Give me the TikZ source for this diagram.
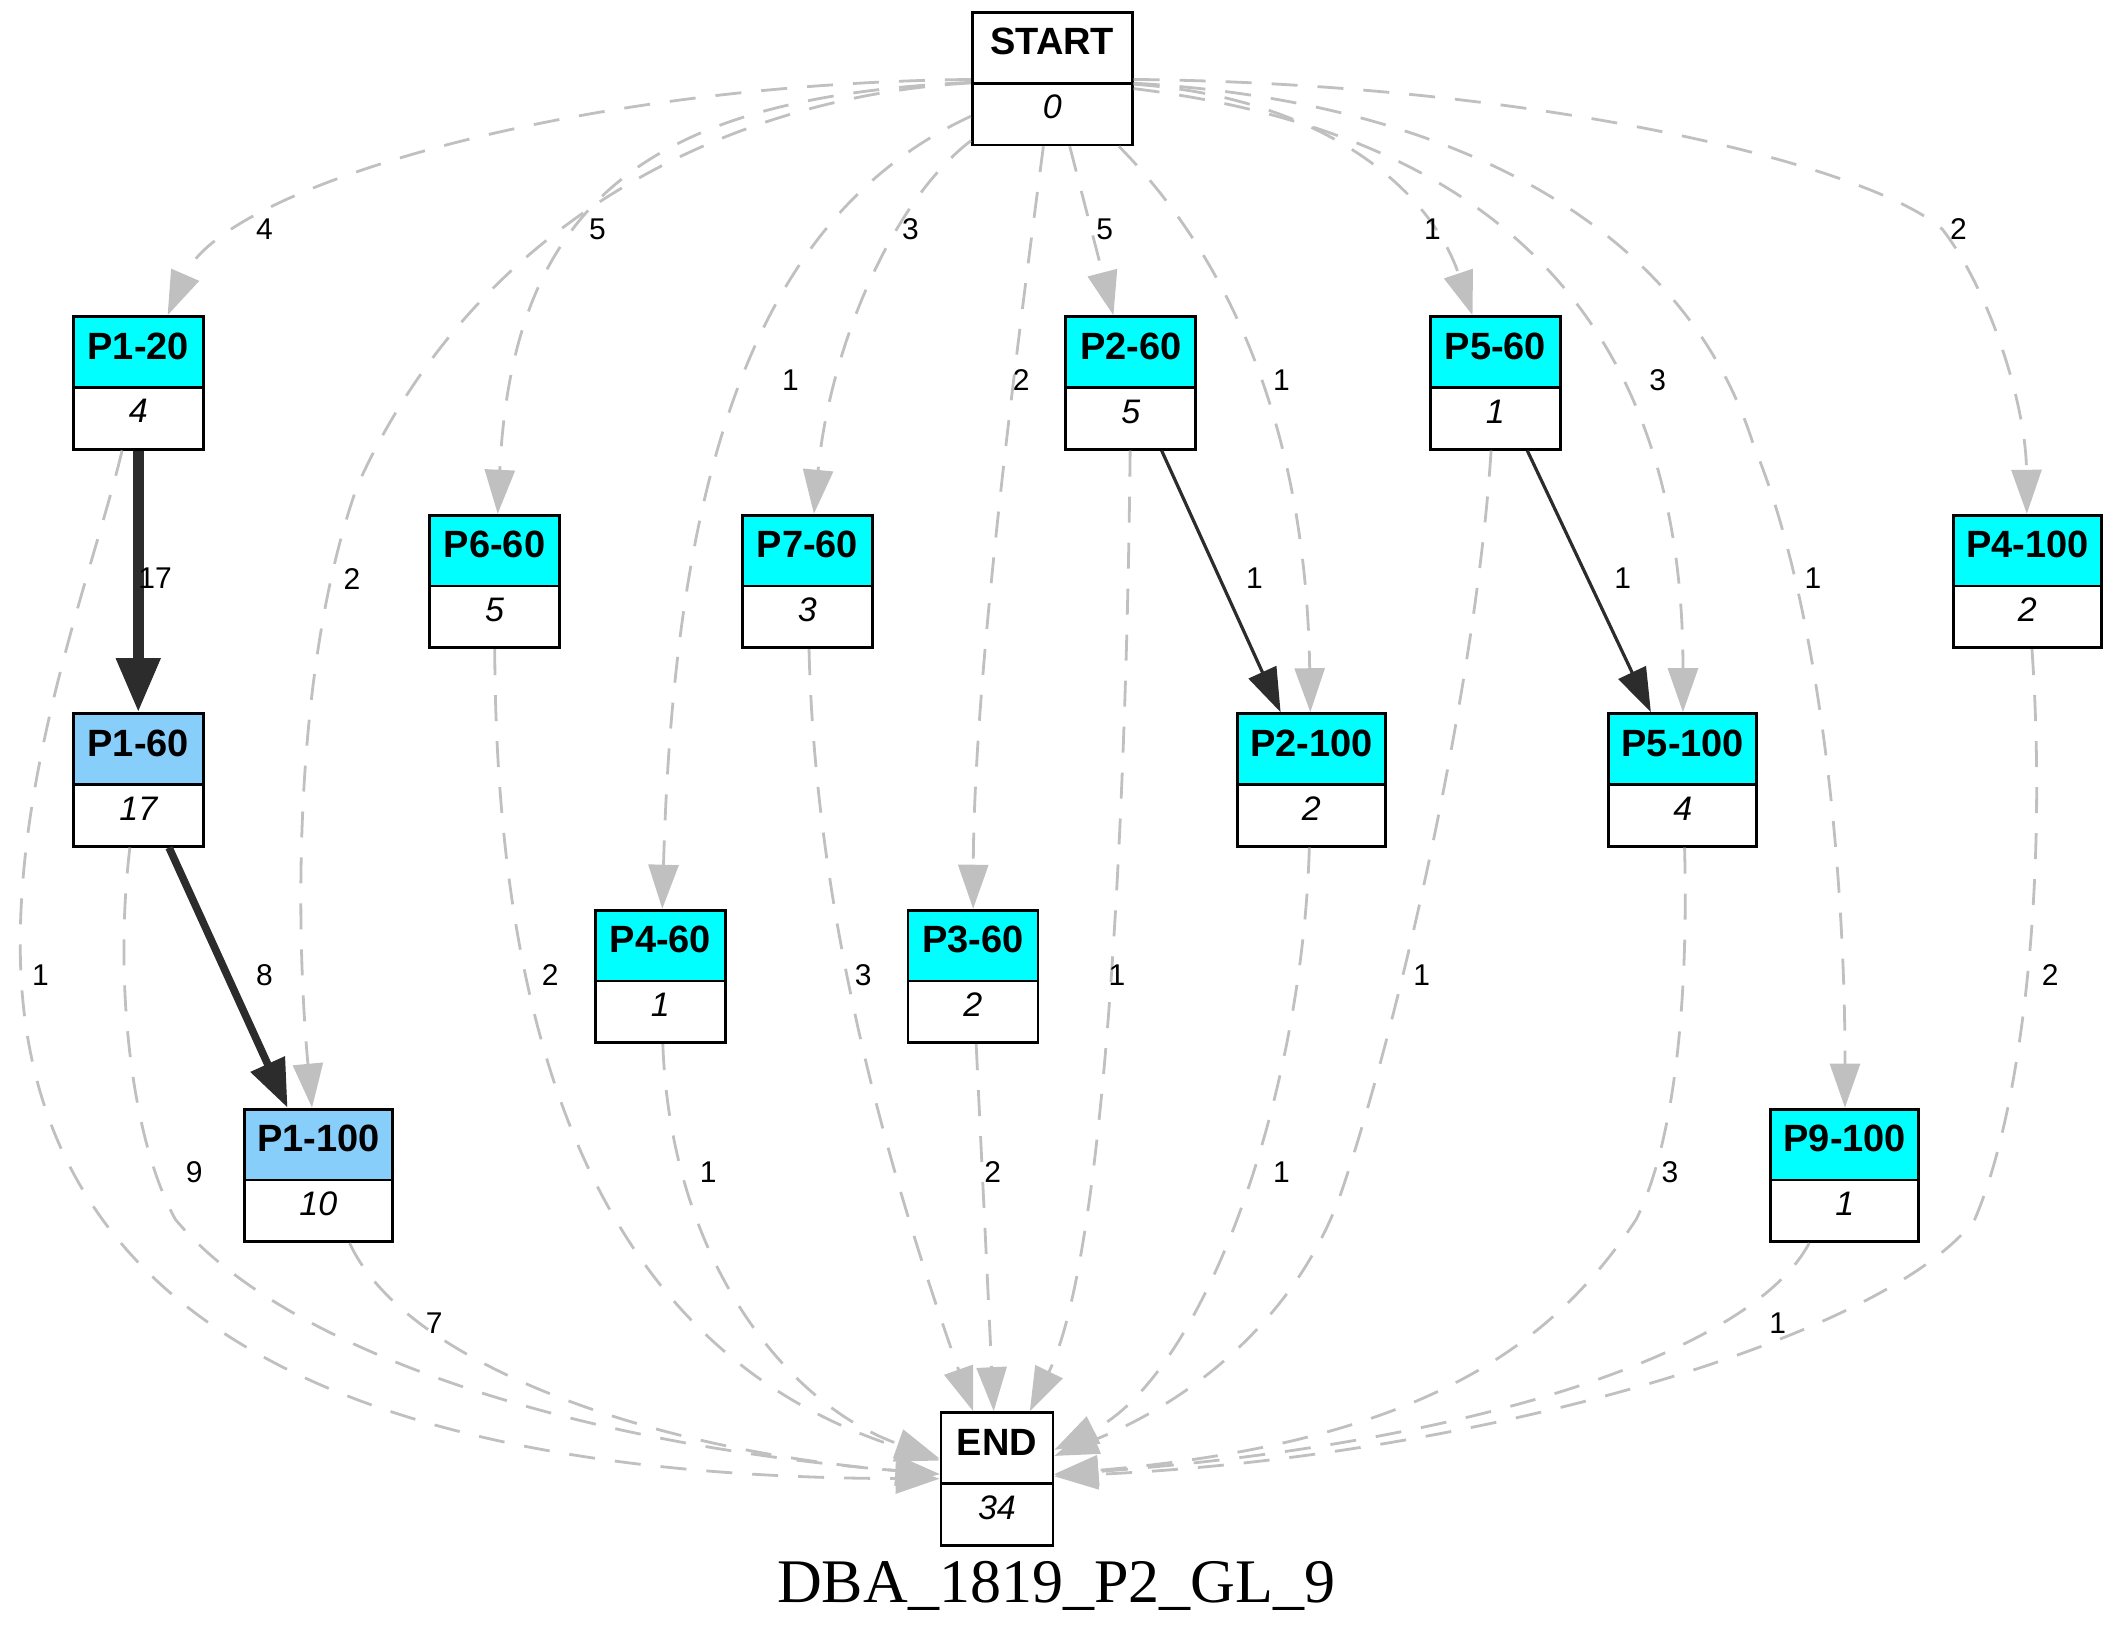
\documentclass[tikz,border=0pt]{standalone}
\usepackage{fontspec}
\setmainfont{Liberation Serif}
\setsansfont{Liberation Sans}
\usetikzlibrary{shapes.multipart}
\usetikzlibrary{arrows.meta}

\definecolor{edgegray}{HTML}{C0C0C0}
\definecolor{edgedark}{HTML}{2C2C2C}
\definecolor{aquafill}{HTML}{00FFFF}
\definecolor{skyfill}{HTML}{87CEFA}

\newcommand{\boxtext}[2]{{\fontsize{9.5}{11}\selectfont\bfseries\rule[-6.7pt]{0pt}{17pt}#1}\nodepart{two}{\fontsize{8.5}{10}\selectfont\itshape\rule[-6.2pt]{0pt}{14.75pt}#2}}

\tikzset{
    pbox/.style={rectangle split, rectangle split parts=2, draw=black, line width=0.7pt,
        inner xsep=1pt, inner ysep=0pt, minimum width=32.5pt, font=\sffamily,
        rectangle split part fill={#1,white}},
    pbox/.default=aquafill,
    wide/.style={minimum width=37pt},
    flow/.style={draw=edgegray, line width=0.7pt, dash pattern=on 6.5pt off 5pt,
        -{Triangle[length=11pt,width=7.5pt]}},
    link/.style={draw=edgedark, line width=0.8pt, -{Triangle[length=11pt,width=7.5pt]}},
    lbl/.style={font=\sffamily\fontsize{7.5}{9}\selectfont, inner sep=0pt},
}

\begin{document}
\begin{tikzpicture}[x=0.3372pt, y=-0.3372pt]
    \useasboundingbox (0,0) rectangle (1568,1223);

    % 节点
    \node[pbox=white, minimum width=40pt] (START) at (780.1,58.3) {\boxtext{START}{0}};
    \node[pbox] (P120) at (102.5,283.8) {\boxtext{P1-20}{4}};
    \node[pbox] (P260) at (838.4,283.9) {\boxtext{P2-60}{5}};
    \node[pbox] (P560) at (1108.6,283.9) {\boxtext{P5-60}{1}};
    \node[pbox] (P660) at (366.6,431.1) {\boxtext{P6-60}{5}};
    \node[pbox] (P760) at (598.6,431.1) {\boxtext{P7-60}{3}};
    \node[pbox, wide] (P4100) at (1503,431.1) {\boxtext{P4-100}{2}};
    \node[pbox=skyfill] (P160) at (102.5,578.2) {\boxtext{P1-60}{17}};
    \node[pbox, wide] (P2100) at (972.2,578.2) {\boxtext{P2-100}{2}};
    \node[pbox, wide] (P5100) at (1247.6,578.2) {\boxtext{P5-100}{4}};
    \node[pbox] (P460) at (489.6,723.9) {\boxtext{P4-60}{1}};
    \node[pbox] (P360) at (721.3,723.9) {\boxtext{P3-60}{2}};
    \node[pbox=skyfill, wide] (P1100) at (236,871.4) {\boxtext{P1-100}{10}};
    \node[pbox, wide] (P9100) at (1367.7,871.4) {\boxtext{P9-100}{1}};
    \node[pbox=white, minimum width=28pt] (END) at (739.1,1096.4) {\boxtext{END}{34}};

    % 从 START 出发
    \draw[flow] (START) .. controls (420,62) and (165,140) .. (P120);
    \draw[flow] (START) .. controls (560,70) and (360,150) .. (265,360) .. controls (215,500) and (220,700) .. (P1100);
    \draw[flow] (START) .. controls (480,72) and (380,150) .. (P660);
    \draw[flow] (START) .. controls (560,160) and (500,350) .. (P460);
    \draw[flow] (START) .. controls (660,150) and (615,260) .. (P760);
    \draw[flow] (START) .. controls (755,250) and (722,500) .. (P360);
    \draw[flow] (START) -- (P260);
    \draw[flow] (START) .. controls (900,180) and (968,300) .. (P2100);
    \draw[flow] (START) .. controls (980,72) and (1060,140) .. (P560);
    \draw[flow] (START) .. controls (1120,100) and (1248,250) .. (P5100);
    \draw[flow] (START) .. controls (1080,75) and (1250,170) .. (1300,330) .. controls (1350,450) and (1368,650) .. (P9100);
    \draw[flow] (START) .. controls (1150,62) and (1390,125) .. (1440,170) .. controls (1475,215) and (1502,300) .. (P4100);

    % 实线
    \draw[link, line width=2.7pt, -{Triangle[length=13.5pt,width=10.5pt]}] (P120) -- (P160);
    \draw[link, line width=1.9pt, -{Triangle[length=12pt,width=9pt]}] (P160) -- (P1100);
    \draw[link] (P260) -- (P2100);
    \draw[link] (P560) -- (P5100);

    % 到 END
    \draw[flow] (P120) .. controls (70,420) and (15,560) .. (15,700) .. controls (15,1000) and (300,1095) .. (END);
    \draw[flow] (P160) .. controls (85,720) and (95,840) .. (130,904) .. controls (210,1000) and (420,1070) .. (END);
    \draw[flow] (P1100) .. controls (300,1010) and (480,1075) .. (END);
    \draw[flow] (P660) .. controls (368,820) and (470,1010) .. (END);
    \draw[flow] (P460) .. controls (497,930) and (580,1040) .. (END);
    \draw[flow] (P760) .. controls (605,700) and (670,900) .. (END);
    \draw[flow] (P360) -- (END);
    \draw[flow] (P260) .. controls (835,600) and (820,930) .. (END);
    \draw[flow] (P560) .. controls (1095,500) and (1040,750) .. (994,885) .. controls (960,980) and (880,1040) .. (END);
    \draw[flow] (P2100) .. controls (965,820) and (890,1020) .. (END);
    \draw[flow] (P5100) .. controls (1252,750) and (1240,850) .. (1213,904) .. controls (1150,1000) and (1050,1070) .. (END);
    \draw[flow] (P9100) .. controls (1300,1000) and (1100,1070) .. (END);
    \draw[flow] (P4100) .. controls (1518,650) and (1500,820) .. (1464,904) .. controls (1400,990) and (1100,1080) .. (END);

    % 边上的数字
    \node[lbl] (l01) at (196,170) {4};
    \node[lbl] (l02) at (443,170) {5};
    \node[lbl] (l03) at (675,170) {3};
    \node[lbl] (l04) at (819,170) {5};
    \node[lbl] (l05) at (1062,170) {1};
    \node[lbl] (l06) at (1452,170) {2};
    \node[lbl] (l07) at (586,282) {1};
    \node[lbl] (l08) at (757,282) {2};
    \node[lbl] (l09) at (950,282) {1};
    \node[lbl] (l10) at (1229,282) {3};
    \node[lbl] (l11) at (115,429) {17};
    \node[lbl] (l12) at (261,429) {2};
    \node[lbl] (l13) at (930,429) {1};
    \node[lbl] (l14) at (1203,429) {1};
    \node[lbl] (l15) at (1344,429) {1};
    \node[lbl] (l16) at (30,723) {1};
    \node[lbl] (l17) at (196,723) {8};
    \node[lbl] (l18) at (408,723) {2};
    \node[lbl] (l19) at (640,723) {3};
    \node[lbl] (l20) at (828,723) {1};
    \node[lbl] (l21) at (1054,723) {1};
    \node[lbl] (l22) at (1520,723) {2};
    \node[lbl] (l23) at (144,869) {9};
    \node[lbl] (l24) at (525,869) {1};
    \node[lbl] (l25) at (736,869) {2};
    \node[lbl] (l26) at (950,869) {1};
    \node[lbl] (l27) at (1238,869) {3};
    \node[lbl] (l28) at (322,981) {7};
    \node[lbl] (l29) at (1318,981) {1};

    \node[font=\fontsize{15.5}{18}\selectfont, anchor=base] (title) at (783,1188) {DBA\_1819\_P2\_GL\_9};
\end{tikzpicture}
\end{document}
